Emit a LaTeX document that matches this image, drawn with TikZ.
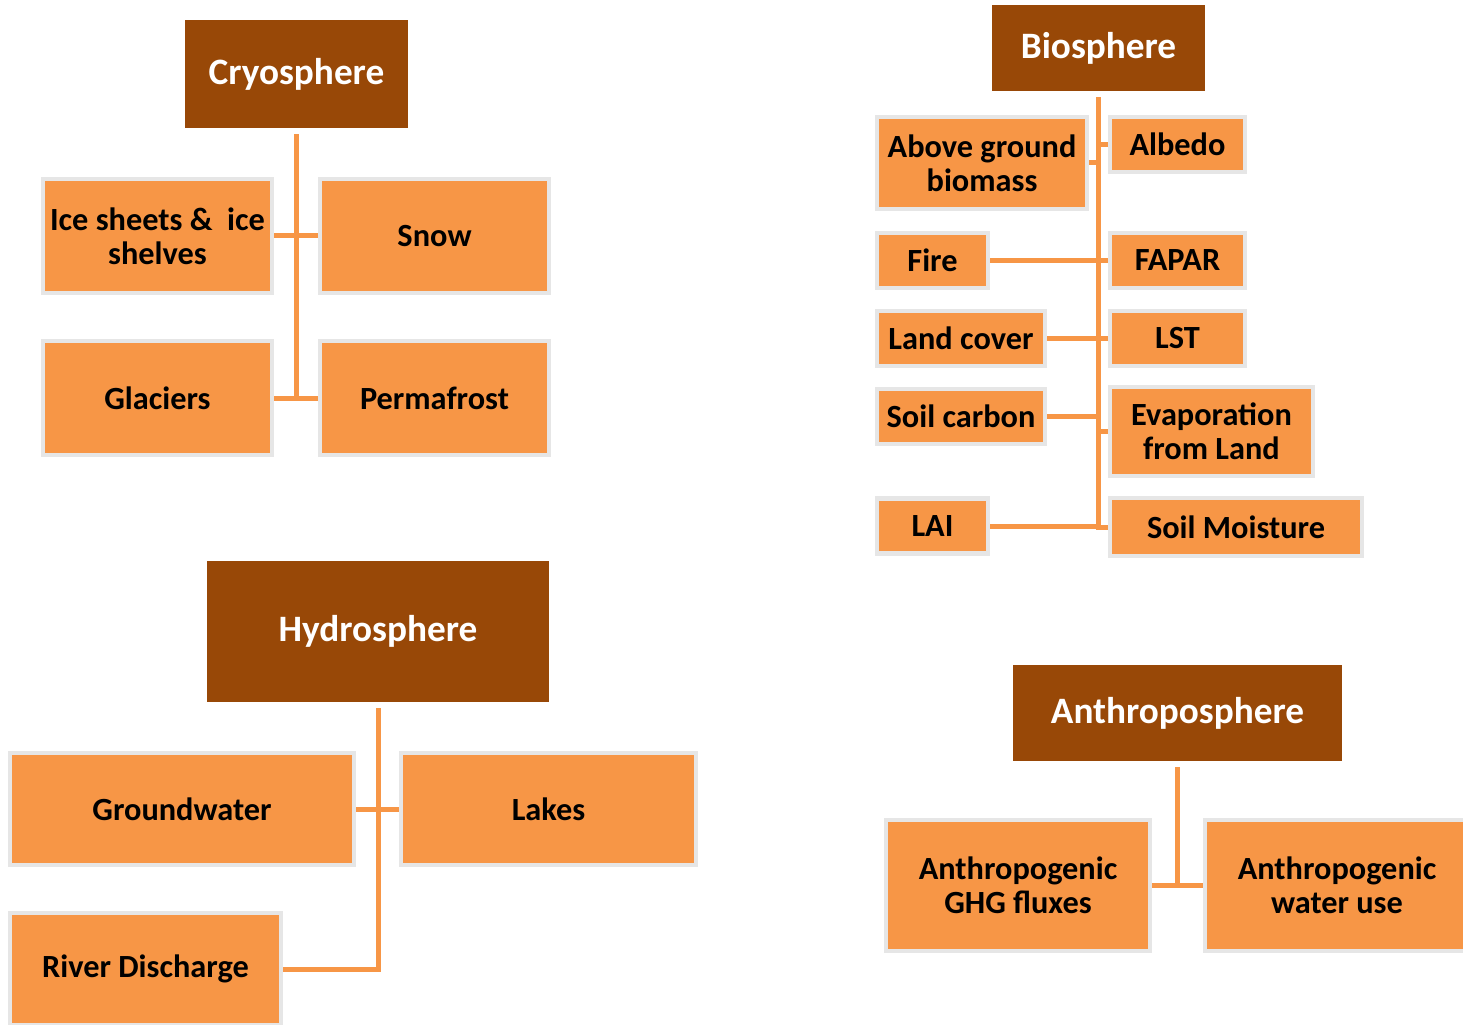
\documentclass[tikz,border=0pt]{standalone}
\usepackage{fontspec}
\setmainfont{Carlito}
\usepackage{tikz}
\usetikzlibrary{calc}
\definecolor{sphorange}{HTML}{F79646}
\definecolor{sphbrown}{HTML}{984807}
\definecolor{sphgray}{HTML}{E6E6E6}
\tikzset{
    sphere/.style={rectangle,fill=sphbrown,text=white,inner sep=0pt,align=center,
        font=\fontsize{21.2}{24}\selectfont\bfseries},
    var/.style={rectangle,fill=sphorange,draw=sphgray,line width=0.9mm,inner sep=0pt,
        align=center,text=black,font=\fontsize{18.4}{19.6}\selectfont\bfseries},
    link/.style={draw=sphorange,line width=1mm},
    trunk/.style={link,shorten <=1.2mm}
}
\begin{document}
\begin{tikzpicture}[x=0.2mm,y=-0.2mm]
\useasboundingbox (0,0) rectangle (1463,1025);
% Cryosphere
\node[sphere,minimum width=44.6mm,minimum height=21.6mm] (cryo) at (296.5,74) {Cryosphere};
\begin{scope}[every node/.style={var,minimum width=45.8mm,minimum height=22.8mm}]
    \node (ice) at (157.5,236) {Ice sheets \& ~ice\\shelves};
    \node (snow) at (434.5,236) {Snow};
    \node (glac) at (157.5,398) {Glaciers};
    \node (perm) at (434.5,398) {Permafrost};
\end{scope}
\draw[trunk] (cryo.south) -- (cryo.south |- perm.west);
\draw[link] (ice.east) -- (snow.west);
\draw[link] (glac.east) -- (perm.west);
% Biosphere
\node[sphere,minimum width=42.6mm,minimum height=17.2mm] (bio) at (1098.5,48) {Biosphere};
\begin{scope}[every node/.style={var,minimum height=11mm}]
    \node[minimum width=42mm,minimum height=18.4mm] (agb) at (982,163) {Above ground\\biomass};
    \node[minimum width=27mm] (albedo) at (1177.5,144.5) {Albedo};
    \node[minimum width=22.2mm] (fire) at (932.5,260.5) {Fire};
    \node[minimum width=27mm] (fapar) at (1177.5,260.5) {FAPAR};
    \node[minimum width=33.6mm] (land) at (961,338.5) {Land cover};
    \node[minimum width=27mm] (lst) at (1177.5,338.5) {LST};
    \node[minimum width=33.6mm] (soilc) at (961,416.5) {Soil carbon};
    \node[minimum width=40.6mm,minimum height=17.8mm] (evap) at (1211.5,431.5) {Evaporation\\from Land};
    \node[minimum width=22.2mm] (lai) at (932.5,526) {LAI};
    \node[minimum width=50.4mm,minimum height=11.6mm] (soilm) at (1236,527) {Soil Moisture};
\end{scope}
\draw[trunk] (bio.south) -- (bio.south |- soilm.west) -- (soilm.west);
\draw[link] (agb.east) -- (agb.east -| bio.south);
\draw[link] (albedo.west) -- (albedo.west -| bio.south);
\draw[link] (fire.east) -- (fapar.west);
\draw[link] (land.east) -- (lst.west);
\draw[link] (soilc.east) -- (soilc.east -| bio.south);
\draw[link] (evap.west) -- (evap.west -| bio.south);
\draw[link] (lai.east) -- (lai.east -| bio.south);
% Hydrosphere
\node[sphere,minimum width=68.4mm,minimum height=28.2mm] (hydro) at (378,631.5) {Hydrosphere};
\begin{scope}[every node/.style={var,minimum height=22.4mm}]
    \node[minimum width=68.8mm] (gw) at (182,809) {Groundwater};
    \node[minimum width=59mm] (lakes) at (548.5,809) {Lakes};
    \node[minimum width=54.2mm] (river) at (145.5,969) {River Discharge};
\end{scope}
\draw[trunk] (hydro.south) -- (hydro.south |- river.east) -- (river.east);
\draw[link] (gw.east) -- (lakes.west);
% Anthroposphere
\node[sphere,minimum width=65.8mm,minimum height=19.2mm] (anthro) at (1177.5,713) {Anthroposphere};
\begin{scope}[every node/.style={var,minimum width=52.8mm,minimum height=26.2mm}]
    \node (ghg) at (1018,885.5) {Anthropogenic\\GHG fluxes};
    \node (water) at (1337,885.5) {Anthropogenic\\water use};
\end{scope}
\draw[trunk] (anthro.south) -- (anthro.south |- ghg.east);
\draw[link] (ghg.east) -- (water.west);
\end{tikzpicture}
\end{document}
